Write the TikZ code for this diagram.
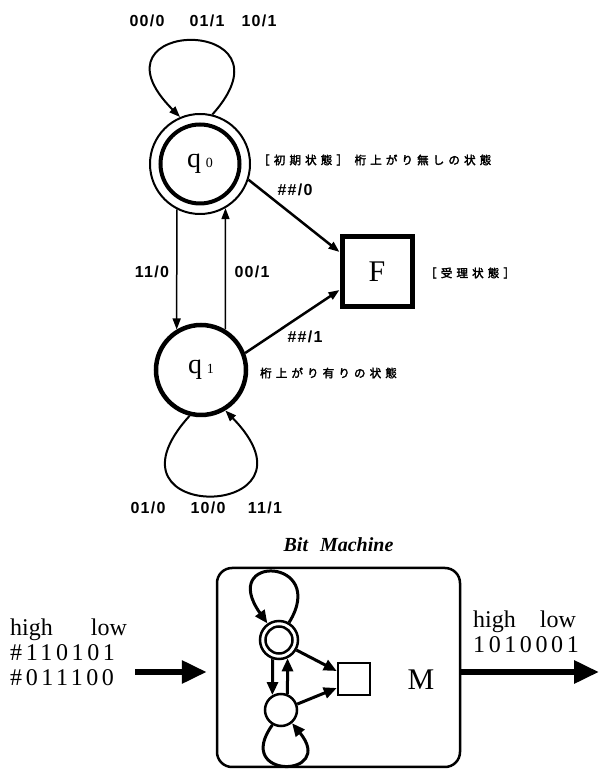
\documentclass[tikz,border=0pt]{standalone}
\usepackage{fontspec}
\setmainfont{Liberation Serif}
\newfontfamily\lblfont[LetterSpace=8]{Liberation Sans}
\newfontfamily\jpfont[LetterSpace=36,AutoFakeBold=2.5,BoldFeatures={FakeBold=1.5}]{Noto Sans CJK JP}
\newfontfamily\numfont[LetterSpace=15]{Liberation Serif}
\usetikzlibrary{arrows.meta,positioning}

\begin{document}
\begin{tikzpicture}[x=1pt, y=1pt,
    state/.style={draw, circle, inner sep=0pt, line width=4.5pt, minimum size=90pt},
    final/.style={draw, rectangle, inner sep=0pt, line width=5pt, minimum size=70pt},
    lbl/.style={font=\lblfont\bfseries\fontsize{16}{16}\selectfont, inner sep=1pt},
    jp/.style={font=\jpfont\bfseries\fontsize{11.5}{11.5}\selectfont, anchor=west, inner sep=0pt},
    arrow/.style={-{Triangle[length=11pt, width=8pt]}, line width=1.5pt},
    loopline/.style={-{Triangle[length=11pt, width=8pt]}, line width=2pt},
    mini/.style={draw, circle, inner sep=0pt, line width=2.5pt},
    miniarrow/.style={-{Triangle[length=13pt, width=11pt]}, line width=3pt},
    bigarrow/.style={-{Triangle[length=25pt, width=22pt]}, line width=6pt},
    bits/.style={anchor=north west, align=left, inner sep=0pt, font=\fontsize{24}{25}\selectfont}
]
\useasboundingbox (0,0) rectangle (599,779);

% upper automaton
\node[state, line width=2pt, minimum size=100pt] (q0) at (200,615) {};
\node[state, line width=4pt, minimum size=79pt] (q0in) at (q0) {\fontsize{28}{28}\selectfont q\,\fontsize{14}{14}\selectfont 0};
\node[state] (q1) at (201,409) {\fontsize{28}{28}\selectfont q\,\fontsize{14}{14}\selectfont 1};
\node[final] (fin) at (377,507) {\fontsize{30}{30}\selectfont F};

\node[lbl] (l00) at (147,758) {00/0};
\node[lbl] (l01) at (207,758) {01/1};
\node[lbl] (l10) at (259,758) {10/1};
\node[lbl] (b01) at (148,271) {01/0};
\node[lbl] (b10) at (208,271) {10/0};
\node[lbl] (b11) at (265,271) {11/1};
\node[lbl] (down) at (152,507) {11/0};
\node[lbl] (up) at (252,507) {00/1};
\node[lbl] (end0) at (295,589) {\#\#/0};
\node[lbl] (end1) at (305,442) {\#\#/1};

\node[jp] (note0) at (258,619) {［初期状態］ 桁上がり無しの状態};
\node[jp] (notef) at (425,506) {［受理状態］};
\node[jp] (note1) at (260,406) {桁上がり有りの状態};

\draw[loopline] (q0.76) .. controls +(90,100) and +(-100,100) .. (q0.113);
\draw[loopline] (q1.-104) .. controls +(-100,-110) and +(107,-110) .. (q1.-59);
\draw[arrow] (q0.-117) -- (q1.121);
\draw[arrow] (q1.59) -- (q0.-60);
\draw[arrow, line width=2.5pt] (q0.-18) -- ([yshift=20pt]fin.west);
\draw[arrow, line width=2.5pt] (q1.21) -- ([yshift=-18pt]fin.west);

% bit machine
\node[draw, rounded corners=15pt, line width=2.5pt, minimum width=243pt, minimum height=199pt] (mach) at (338.5,111.5) {};
\node[font=\bfseries\itshape\fontsize{20}{20}\selectfont, above=12pt of mach] (title) {Bit\hspace{12pt}Machine};

\node[mini, minimum size=38pt] (m0) at (279,139) {};
\node[mini, minimum size=27pt] (m0in) at (m0) {};
\node[mini, minimum size=32pt] (m1) at (281,69) {};
\node[draw, rectangle, line width=2.5pt, minimum size=32pt, inner sep=0pt] (mf) at (354,100) {};
\node[font=\fontsize{30}{30}\selectfont] (mname) at (421,99) {M};

\draw[miniarrow] (m0.60) .. controls +(40,65) and +(-50,70) .. (m0.125);
\draw[miniarrow] (m1.-120) .. controls +(-40,-55) and +(45,-55) .. (m1.-50);
\draw[miniarrow] (m0.-108) -- (m1.120);
\draw[miniarrow] (m1.68) -- (m0.-65);
\draw[miniarrow] (m0.-30) -- ([yshift=8pt]mf.west);
\draw[miniarrow] (m1.20) -- ([yshift=-9pt]mf.west);

\coordinate (inp) at (135,107);
\coordinate (outp) at (599,107);
\draw[bigarrow, shorten >=9pt] (inp) -- (inp -| mach.west);
\draw[bigarrow] (mach.east |- outp) -- (outp);

\node[bits] (intext) at (10,160) {high\hspace{38pt}low\\{\numfont\#110101}\\{\numfont\#011100}};
\node[bits] (outtext) at (473,168) {high\hspace{24pt}low\\{\numfont 1010001}};
\end{tikzpicture}
\end{document}
